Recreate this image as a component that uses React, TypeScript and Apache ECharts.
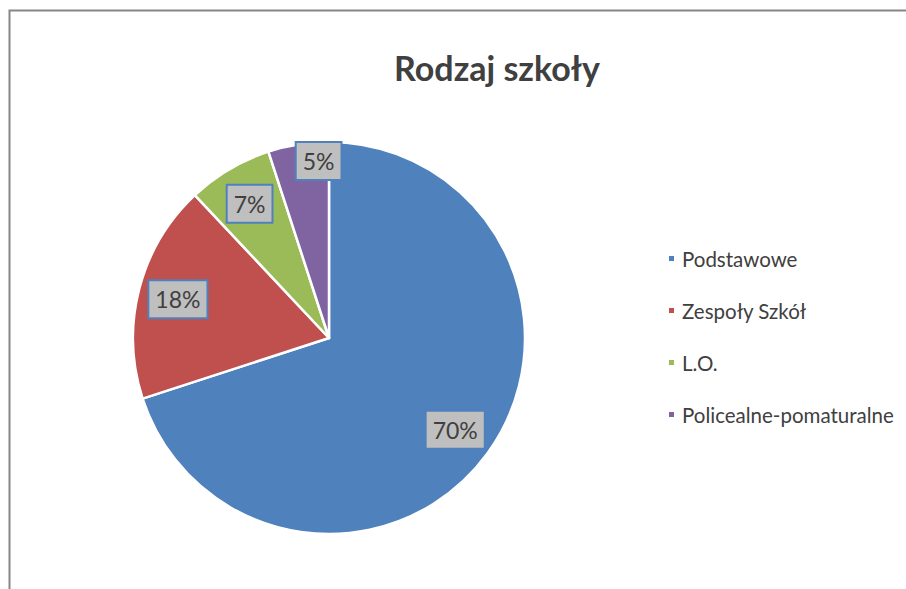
import React, { useEffect, useRef } from "react";
import * as echarts from "echarts";

const categories = ["Podstawowe", "Zespoły Szkół", "L.O.", "Policealne-pomaturalne"];
const values = [70, 18, 7, 5];
const colors = ["#4F81BD", "#C0504D", "#9BBB59", "#8064A2"];
const titleText = "Rodzaj szkoły";

export default function App() {
  const ref = useRef<HTMLDivElement>(null);
  useEffect(() => {
    if (!ref.current) return;
    const chart = echarts.init(ref.current, null, { renderer: "svg" });
    const data = categories.map((name, i) => ({
      name,
      value: values[i],
      itemStyle: { color: colors[i] },
    }));
    const font = "Lato";
    chart.setOption({
      animation: false,
      backgroundColor: "#ffffff",
      title: {
        text: titleText,
        left: 492,
        top: 45,
        textAlign: "center",
        textStyle: { fontFamily: font, fontWeight: "bold", fontSize: 34, color: "#404040" },
      },
      graphic: [
        {
          type: "rect",
          shape: { x: 9.5, y: 10.5, width: 920, height: 600 },
          style: { fill: "none", stroke: "#868686", lineWidth: 2 },
          silent: true,
        },
      ],
      legend: {
        orient: "vertical",
        left: 662,
        top: 243,
        itemGap: 31,
        itemWidth: 7,
        itemHeight: 7,
        icon: "rect",
        textStyle: { fontFamily: font, fontSize: 20.5, color: "#404040", padding: [0, 0, 0, 2] },
        data: categories.map((name, i) => ({ name, itemStyle: { color: colors[i] } })),
      },
      series: [
        {
          type: "pie",
          center: [329, 338],
          radius: [0, 196],
          startAngle: 90,
          clockwise: true,
          silent: true,
          label: { show: false },
          labelLine: { show: false },
          itemStyle: { borderColor: "#ffffff", borderWidth: 2.5 },
          data,
        },
        {
          type: "pie",
          center: [329, 338],
          radius: [110, 196],
          startAngle: 90,
          clockwise: true,
          silent: true,
          percentPrecision: 0,
          itemStyle: { color: "rgba(0,0,0,0)", borderWidth: 0 },
          labelLine: { show: false },
          label: {
            show: true,
            position: "inside",
            formatter: "{d}%",
            fontFamily: font,
            fontSize: 23,
            color: "#404040",
            backgroundColor: "#BFBFBF",
            borderColor: "#4F81BD",
            borderWidth: 2,
            padding: [7, 6, 6, 6],
          },
          data: categories.map((name, i) =>
            i === 3
              ? { name, value: values[i], label: { offset: [14, -23] } }
              : { name, value: values[i] }
          ),
        },
      ],
    });
    return () => chart.dispose();
  }, []);
  return (
    <div
      ref={ref}
      style={{ position: "absolute", left: 0, top: 0, width: 906, height: 589 }}
    />
  );
}
